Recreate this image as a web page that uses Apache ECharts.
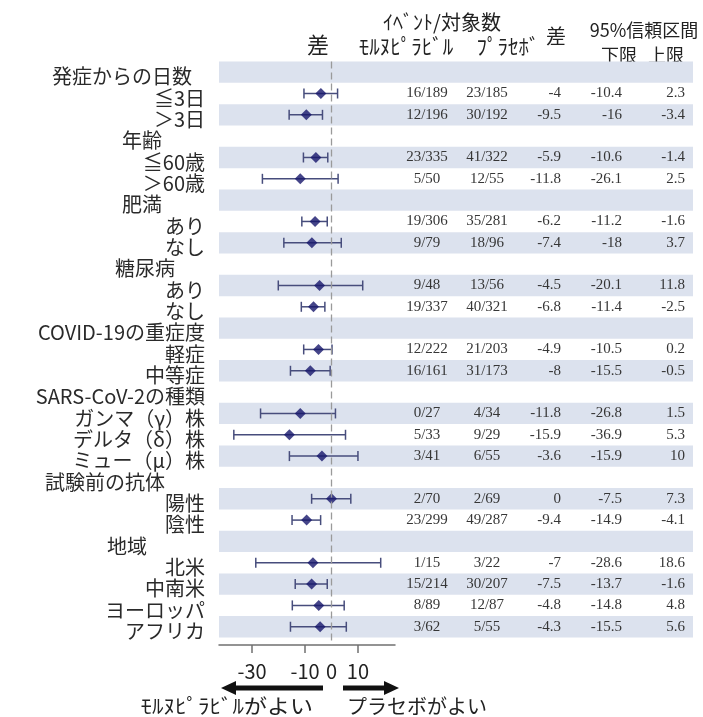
<!DOCTYPE html>
<html>
<head>
    <meta charset="utf-8" />
    <script src="https://cdn.jsdelivr.net/npm/echarts@6/dist/echarts.min.js"></script>
    <title></title>
    <style>
        html, body { margin: 0; padding: 0; background: #fff; }
        #main { width: 703px; height: 717px; }
    </style>
</head>
<body>
    <div id="main"></div>

    <script type="text/javascript">

        // rows, top to bottom (group headers have null values)
        var rowNames = ['発症からの日数', '≦3日', '＞3日', '年齢', '≦60歳', '＞60歳', '肥満', 'あり', 'なし',
            '糖尿病', 'あり', 'なし', 'COVID-19の重症度', '軽症', '中等症', 'SARS-CoV-2の種類',
            'ガンマ（γ）株', 'デルタ（δ）株', 'ミュー（μ）株', '試験前の抗体', '陽性', '陰性',
            '地域', '北米', '中南米', 'ヨーロッパ', 'アフリカ'];

        var eventsDrug = [null, '16/189', '12/196', null, '23/335', '5/50', null, '19/306', '9/79',
            null, '9/48', '19/337', null, '12/222', '16/161', null, '0/27', '5/33', '3/41',
            null, '2/70', '23/299', null, '1/15', '15/214', '8/89', '3/62'];

        var eventsPlacebo = [null, '23/185', '30/192', null, '41/322', '12/55', null, '35/281', '18/96',
            null, '13/56', '40/321', null, '21/203', '31/173', null, '4/34', '9/29', '6/55',
            null, '2/69', '49/287', null, '3/22', '30/207', '12/87', '5/55'];

        var diff = [null, -4, -9.5, null, -5.9, -11.8, null, -6.2, -7.4,
            null, -4.5, -6.8, null, -4.9, -8, null, -11.8, -15.9, -3.6,
            null, 0, -9.4, null, -7, -7.5, -4.8, -4.3];

        var ciLow = [null, -10.4, -16, null, -10.6, -26.1, null, -11.2, -18,
            null, -20.1, -11.4, null, -10.5, -15.5, null, -26.8, -36.9, -15.9,
            null, -7.5, -14.9, null, -28.6, -13.7, -14.8, -15.5];

        var ciHigh = [null, 2.3, -3.4, null, -1.4, 2.5, null, -1.6, 3.7,
            null, 11.8, -2.5, null, 0.2, -0.5, null, 1.5, 5.3, 10,
            null, 7.3, -4.1, null, 18.6, -1.6, 4.8, 5.6];

        var xTickValues = [-30, -10, 10];
        var xLabelValues = [-30, -10, 0, 10];

        // right padding of the group header labels (layout)
        var headerPad = { '発症からの日数': 13, '年齢': 43, '肥満': 43, '糖尿病': 30,
            'COVID-19の重症度': 0, 'SARS-CoV-2の種類': 0, '試験前の抗体': 40, '地域': 58 };

        var JP = "'Noto Sans CJK JP', sans-serif";
        var SERIF = "'Liberation Serif', 'DejaVu Serif', serif";

        var TOP = 61.5, ROW = 21.33, AXIS_Y = 645, H = 717;
        var nRows = rowNames.length;
        var rowIdx = rowNames.map(function (n, i) { return String(i); });

        var ciData = [], pointData = [];
        for (var i = 0; i < nRows; i++) {
            if (diff[i] !== null) {
                ciData.push([ciLow[i], ciHigh[i], i]);
                pointData.push([diff[i], i]);
            }
        }

        var rich = { s: { fontFamily: JP, fontSize: 20, color: '#2a2a2a', padding: [9, 0, 0, 0] } };
        rowNames.forEach(function (n, i) {
            if (headerPad[n] !== undefined) {
                rich['h' + i] = { fontFamily: JP, fontSize: 20, color: '#2a2a2a', padding: [9, headerPad[n], 0, 0] };
            }
        });

        function tableAxis(values, offset, align) {
            return {
                type: 'category', gridIndex: 1, data: rowIdx, inverse: true,
                position: 'right', offset: offset,
                axisLine: { show: false, onZero: false }, axisTick: { show: false },
                splitLine: { show: false },
                axisLabel: {
                    interval: 0, margin: 0, align: align,
                    fontFamily: SERIF, fontSize: 15, color: '#363636',
                    formatter: function (v) {
                        var t = values[+v];
                        return t === null ? '' : String(t);
                    }
                }
            };
        }

        var myChart = echarts.init(document.getElementById('main'));

        myChart.setOption({
            animation: false,
            grid: [
                { left: 219, width: 176, top: TOP, bottom: H - AXIS_Y },
                { left: 219, right: 10, top: TOP, height: ROW * nRows }
            ],
            xAxis: [{
                type: 'value', gridIndex: 0, min: -42.5, max: 24,
                splitLine: { show: false },
                axisLine: { onZero: false, lineStyle: { color: '#707070', width: 1.5 } },
                axisTick: { customValues: xTickValues, length: 8, lineStyle: { color: '#707070', width: 1.5 } },
                axisLabel: {
                    customValues: xLabelValues, margin: 16,
                    fontFamily: JP, fontSize: 20, color: '#222'
                }
            }, {
                type: 'value', gridIndex: 1, min: 0, max: 1, show: false
            }],
            yAxis: [{
                type: 'value', gridIndex: 0, inverse: true,
                min: -0.5, max: (AXIS_Y - TOP) / ROW - 0.5, show: false
            }, {
                type: 'category', gridIndex: 1, data: rowIdx, inverse: true, position: 'left',
                axisLine: { show: false, onZero: false }, axisTick: { show: false },
                splitLine: { show: false },
                splitArea: { show: true, areaStyle: { color: ['#dce2ee', 'rgba(255,255,255,0)'] } },
                axisLabel: {
                    interval: 0, margin: 14, rich: rich,
                    formatter: function (v) {
                        var k = +v, n = rowNames[k];
                        return headerPad[n] !== undefined ? '{h' + k + '|' + n + '}' : '{s|' + n + '}';
                    }
                }
            },
                tableAxis(eventsDrug, -266, 'center'),
                tableAxis(eventsPlacebo, -206, 'center'),
                tableAxis(diff, -132, 'right'),
                tableAxis(ciLow, -71, 'right'),
                tableAxis(ciHigh, -8, 'right')
            ],
            series: [{
                type: 'custom', xAxisIndex: 0, yAxisIndex: 0,
                data: ciData,
                encode: { x: [0, 1], y: 2 },
                renderItem: function (params, api) {
                    var y = api.value(2);
                    var p1 = api.coord([api.value(0), y]);
                    var p2 = api.coord([api.value(1), y]);
                    var h = 5;
                    var st = { stroke: '#474d7c', lineWidth: 1.5 };
                    return {
                        type: 'group', children: [
                            { type: 'line', shape: { x1: p1[0], y1: p1[1], x2: p2[0], y2: p2[1] }, style: st },
                            { type: 'line', shape: { x1: p1[0], y1: p1[1] - h, x2: p1[0], y2: p1[1] + h }, style: st },
                            { type: 'line', shape: { x1: p2[0], y1: p2[1] - h, x2: p2[0], y2: p2[1] + h }, style: st }
                        ]
                    };
                },
                z: 3
            }, {
                type: 'scatter', xAxisIndex: 0, yAxisIndex: 0,
                data: pointData,
                symbol: 'diamond', symbolSize: [11, 11],
                itemStyle: { color: '#16176b' },
                z: 4,
                markLine: {
                    silent: true, symbol: 'none', label: { show: false },
                    lineStyle: { color: '#9a9a9a', type: [7, 4], width: 1.3 },
                    data: [{ xAxis: 0 }]
                }
            }],
            graphic: [
                { type: 'text', x: 318, y: 45, style: { text: '差', font: "22px " + JP, fill: '#222', align: 'center', verticalAlign: 'middle' } },
                { type: 'text', x: 442, y: 22, style: { text: 'ｲﾍﾞﾝﾄ/対象数', font: "20px " + JP, fill: '#222', align: 'center', verticalAlign: 'middle' } },
                { type: 'text', x: 406, y: 46, style: { text: 'ﾓﾙﾇﾋﾟﾗﾋﾞﾙ', font: "21px " + JP, fill: '#222', align: 'center', verticalAlign: 'middle' } },
                { type: 'text', x: 508, y: 46, style: { text: 'ﾌﾟﾗｾﾎﾞ', font: "21px " + JP, fill: '#222', align: 'center', verticalAlign: 'middle' } },
                { type: 'text', x: 556, y: 36, style: { text: '差', font: "20px " + JP, fill: '#222', align: 'center', verticalAlign: 'middle' } },
                { type: 'text', x: 644, y: 30, style: { text: '95%信頼区間', font: "18px " + JP, fill: '#222', align: 'center', verticalAlign: 'middle' } },
                { type: 'text', x: 619, y: 55, style: { text: '下限', font: "18px " + JP, fill: '#222', align: 'center', verticalAlign: 'middle' } },
                { type: 'text', x: 666, y: 55, style: { text: '上限', font: "18px " + JP, fill: '#222', align: 'center', verticalAlign: 'middle' } },
                // arrows under the axis
                { type: 'rect', shape: { x: 232, y: 685.5, width: 91, height: 5 }, style: { fill: '#111' } },
                { type: 'polygon', shape: { points: [[221, 688], [236, 681], [236, 695]] }, style: { fill: '#111' } },
                { type: 'rect', shape: { x: 343, y: 685.5, width: 45, height: 5 }, style: { fill: '#111' } },
                { type: 'polygon', shape: { points: [[399, 688], [384, 681], [384, 695]] }, style: { fill: '#111' } },
                { type: 'text', x: 313, y: 706, scaleX: 1.15, style: { text: 'ﾓﾙﾇﾋﾟﾗﾋﾞﾙがよい', font: "20px " + JP, fill: '#222', align: 'right', verticalAlign: 'middle' } },
                { type: 'text', x: 347, y: 706, style: { text: 'プラセボがよい', font: "20px " + JP, fill: '#222', align: 'left', verticalAlign: 'middle' } }
            ]
        });

    </script>
</body>
</html>
